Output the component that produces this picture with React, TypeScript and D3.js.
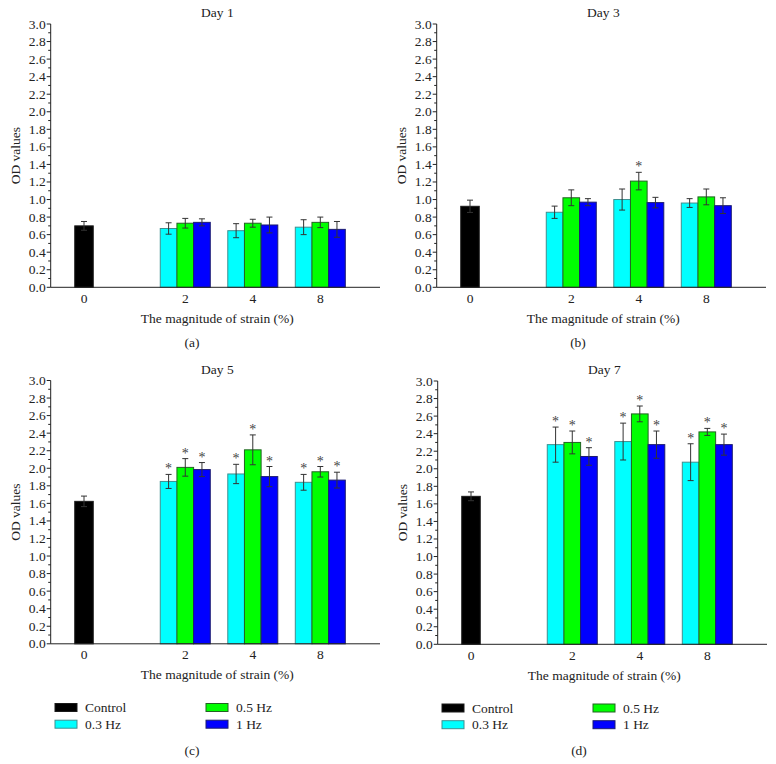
import * as d3 from 'd3'

const DAYS = ['Day 1', 'Day 3', 'Day 5', 'Day 7']
const TAGS = ['(a)', '(b)', '(c)', '(d)']
const STRAINS = ['0', '2', '4', '8']
const FREQS = ['0.3 Hz', '0.5 Hz', '1 Hz']

const CONTROL_MEAN = [0.7, 0.923, 1.623, 1.686]
const CONTROL_ERR = [0.05, 0.07, 0.06, 0.05]

// rows = strain 2 / 4 / 8 %, cols = 0.3 / 0.5 / 1 Hz
const DAY1_MEAN = [[0.67, 0.73, 0.74], [0.645, 0.73, 0.71], [0.685, 0.74, 0.66]]
const DAY1_ERR = [[0.065, 0.055, 0.04], [0.08, 0.045, 0.09], [0.085, 0.06, 0.09]]
const DAY1_STAR = [[0, 0, 0], [0, 0, 0], [0, 0, 0]]

const DAY3_MEAN = [[0.855, 1.02, 0.97], [1.0, 1.21, 0.965], [0.96, 1.03, 0.93]]
const DAY3_ERR = [[0.07, 0.09, 0.04], [0.12, 0.1, 0.06], [0.05, 0.09, 0.09]]
const DAY3_STAR = [[0, 0, 0], [0, 1, 0], [0, 0, 0]]

const DAY5_MEAN = [[1.85, 2.01, 1.985], [1.935, 2.21, 1.905], [1.84, 1.96, 1.865]]
const DAY5_ERR = [[0.08, 0.1, 0.08], [0.11, 0.17, 0.115], [0.09, 0.06, 0.09]]
const DAY5_STAR = [[1, 1, 1], [1, 1, 1], [1, 1, 1]]

const DAY7_MEAN = [[2.275, 2.3, 2.14], [2.31, 2.625, 2.275], [2.075, 2.42, 2.275]]
const DAY7_ERR = [[0.2, 0.13, 0.1], [0.21, 0.09, 0.155], [0.21, 0.04, 0.12]]
const DAY7_STAR = [[1, 1, 1], [1, 1, 1], [1, 1, 1]]

const MEANS = [DAY1_MEAN, DAY3_MEAN, DAY5_MEAN, DAY7_MEAN]
const ERRS = [DAY1_ERR, DAY3_ERR, DAY5_ERR, DAY7_ERR]
const STARS = [DAY1_STAR, DAY3_STAR, DAY5_STAR, DAY7_STAR]

const FILL = { control: '#000000', '0.3 Hz': '#00ffff', '0.5 Hz': '#00ff00', '1 Hz': '#0000ff' }
const EDGE = { control: '#1a1a1a', '0.3 Hz': '#3f8f8f', '0.5 Hz': '#236323', '1 Hz': '#1c1c70' }

const FONT = "'Liberation Serif', 'Times New Roman', serif"
const FS = 13.5
const ORIGINS = [[0, 0], [386, 0], [0, 356.5], [387, 357]]

// inner plot box shared by all panels
const left = 50.7
const right = 380
const top = 24
const bottom = 287.3

const y = d3.scaleLinear().domain([0, 3]).range([bottom, top])
// slot positions: control, gap, then 2 / 4 / 8
const SLOT = [0, 1.5, 2.5, 3.5]
const x = d3.scaleLinear().domain([0, 3.5]).range([84, 320.3])
const inGroup = d3.scaleBand().domain(FREQS).range([-25, 25])

function ErrorBar({ cx, v, e }: { cx: number; v: number; e: number }) {
  return (
    <g stroke="#333" strokeWidth={1}>
      <line x1={cx} x2={cx} y1={y(v - e)} y2={y(v + e)} />
      <line x1={cx - 3} x2={cx + 3} y1={y(v + e)} y2={y(v + e)} />
      <line x1={cx - 3} x2={cx + 3} y1={y(v - e)} y2={y(v - e)} />
    </g>
  )
}

function Panel({ idx }: { idx: number }) {
  const [ox, oy] = ORIGINS[idx]
  const majors = y.ticks(15)
  const minors = d3.range(0.1, 3, 0.2)
  const withLegend = idx >= 2
  const legendItems = [
    { name: 'Control', key: 'control', col: 0, row: 0 },
    { name: '0.3 Hz', key: '0.3 Hz', col: 0, row: 1 },
    { name: '0.5 Hz', key: '0.5 Hz', col: 1, row: 0 },
    { name: '1 Hz', key: '1 Hz', col: 1, row: 1 },
  ]
  const cw = 18.5

  return (
    <g transform={`translate(${ox},${oy})`} style={{ fontFamily: FONT }} fill="#222">
      <text x={(left + right) / 2 + 2} y={17} textAnchor="middle" fontSize={FS}>{DAYS[idx]}</text>

      {/* control bar */}
      <rect
        x={x(SLOT[0]) - cw / 2}
        y={y(CONTROL_MEAN[idx])}
        width={cw}
        height={bottom - y(CONTROL_MEAN[idx])}
        fill={FILL.control}
        stroke={EDGE.control}
      />
      <ErrorBar cx={x(SLOT[0])} v={CONTROL_MEAN[idx]} e={CONTROL_ERR[idx]} />

      {STRAINS.slice(1).map((s, gi) =>
        FREQS.map((f, fi) => {
          const v = MEANS[idx][gi][fi]
          const e = ERRS[idx][gi][fi]
          const bx = x(SLOT[gi + 1]) + (inGroup(f) as number)
          const cx = bx + inGroup.bandwidth() / 2
          return (
            <g key={s + f}>
              <rect
                x={bx}
                y={y(v)}
                width={inGroup.bandwidth()}
                height={bottom - y(v)}
                fill={FILL[f]}
                stroke={EDGE[f]}
              />
              <ErrorBar cx={cx} v={v} e={e} />
              {STARS[idx][gi][fi] ? (
                <text x={cx} y={y(v + e) - 1} textAnchor="middle" fontSize={14} fill="#444">*</text>
              ) : null}
            </g>
          )
        })
      )}

      {/* axes */}
      <line x1={left} x2={left} y1={top} y2={bottom} stroke="#222" />
      <line x1={left} x2={right} y1={bottom} y2={bottom} stroke="#222" />
      {majors.map(t => (
        <g key={t}>
          <line x1={left - 4} x2={left} y1={y(t)} y2={y(t)} stroke="#222" />
          <text x={left - 5} y={y(t) + 4.5} textAnchor="end" fontSize={FS}>{t.toFixed(1)}</text>
        </g>
      ))}
      {minors.map(t => (
        <line key={t} x1={left - 2.5} x2={left} y1={y(t)} y2={y(t)} stroke="#222" />
      ))}
      {STRAINS.map((s, i) => (
        <text key={s} x={x(SLOT[i])} y={302.5} textAnchor="middle" fontSize={FS}>{s}</text>
      ))}
      <text x={(left + right) / 2 + 2} y={322.5} textAnchor="middle" fontSize={FS}>The magnitude of strain (%)</text>
      <text transform={`translate(20,${(top + bottom) / 2}) rotate(-90)`} textAnchor="middle" fontSize={FS}>OD values</text>

      {withLegend &&
        legendItems.map(it => {
          const lx = 55 + it.col * 151
          const ly = 347 + it.row * 16.7
          return (
            <g key={it.name}>
              <rect x={lx} y={ly} width={22} height={8} fill={FILL[it.key]} stroke={EDGE[it.key]} />
              <text x={lx + 30} y={ly + 8.5} fontSize={FS}>{it.name}</text>
            </g>
          )
        })}

      <text x={192} y={withLegend ? 398 : 347} textAnchor="middle" fontSize={FS}>{TAGS[idx]}</text>
    </g>
  )
}

export default function App() {
  return (
    <svg
      width={776}
      height={764}
      style={{ position: 'absolute', left: 0, top: 0, background: '#fff' }}
    >
      {DAYS.map((d, i) => (
        <Panel key={d} idx={i} />
      ))}
    </svg>
  )
}
